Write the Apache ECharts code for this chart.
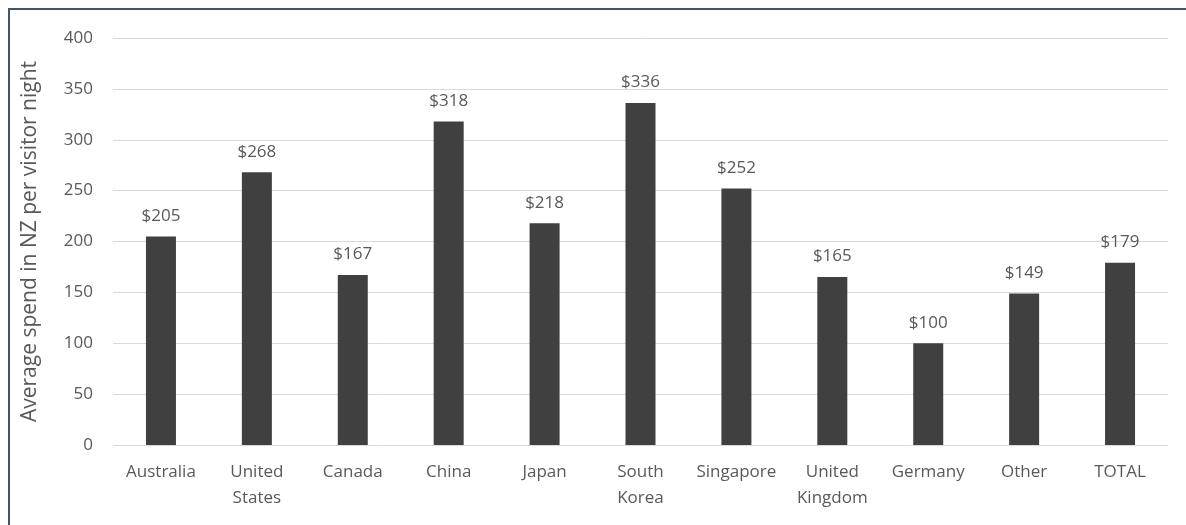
<!DOCTYPE html>
<html><head><meta charset="utf-8">
<script src="https://cdn.jsdelivr.net/npm/echarts@6/dist/echarts.min.js"></script>
<style>
html,body{margin:0;padding:0;background:#fff;}
#frame{position:absolute;left:8px;top:8px;width:1186px;height:525px;border-left:2px solid #44546a;border-top:2px solid #44546a;box-sizing:border-box;}
#c{position:absolute;left:0;top:0;width:1186px;height:525px;}
</style></head>
<body>
<div id="frame"></div>
<div id="c"></div>
<script>
const categories = ['Australia','United\nStates','Canada','China','Japan','South\nKorea','Singapore','United\nKingdom','Germany','Other','TOTAL'];
const values = [205,268,167,318,218,336,252,165,100,149,179];
const yTicks = [0,50,100,150,200,250,300,350,400];
const yTitle = 'Average spend in NZ per visitor night';

const chart = echarts.init(document.getElementById('c'));
const font = 'Open Sans, Noto Sans, sans-serif';
chart.setOption({
  animation:false,
  grid:{left:113,right:18,top:38,bottom:80,containLabel:false},
  xAxis:{type:'category',data:categories,
    axisLine:{show:false},axisTick:{show:false},
    axisLabel:{color:'#595959',fontSize:17,fontFamily:font,margin:14,lineHeight:26,interval:0}},
  yAxis:{type:'value',min:yTicks[0],max:yTicks[yTicks.length-1],interval:50,
    name:yTitle,nameLocation:'middle',nameGap:72,
    nameTextStyle:{color:'#595959',fontSize:21,fontFamily:font},
    axisLine:{show:false},axisTick:{show:false},
    axisLabel:{color:'#595959',fontSize:17,fontFamily:font,margin:20},
    splitLine:{lineStyle:{color:'#d9d9d9',width:1}}},
  series:[{type:'bar',data:values,barWidth:30,
    itemStyle:{color:'#404040'},
    label:{show:true,position:'top',distance:12,color:'#595959',fontSize:17,fontFamily:font,
      formatter:p=>'$'+p.value}}]
});
</script>
</body></html>
